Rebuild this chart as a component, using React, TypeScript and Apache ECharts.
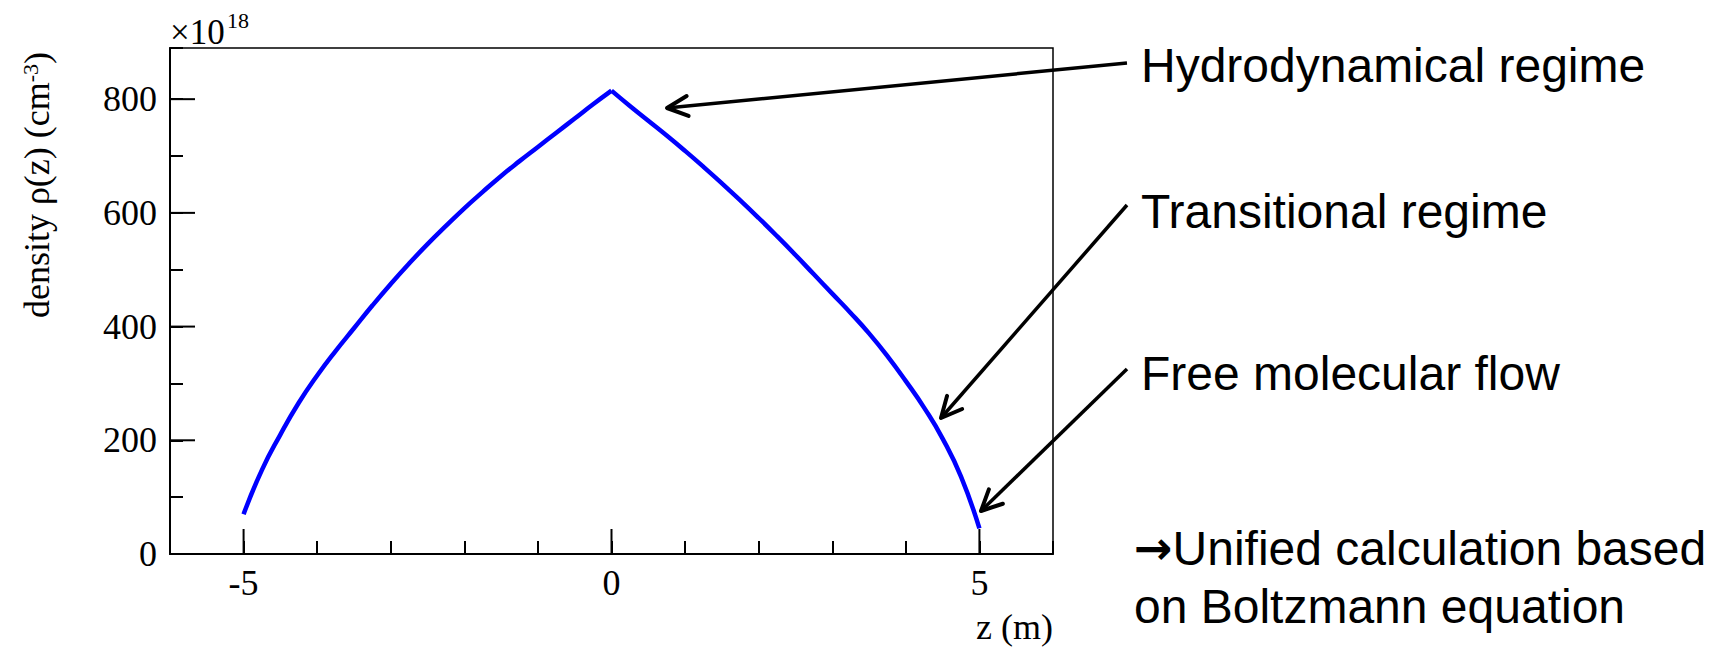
import React, { useEffect, useRef } from "react";
import * as echarts from "echarts";

// Sampled positions along the tube axis, z in metres
const zPositions = [
  -5, -4.75, -4.5, -4.25, -4, -3.75, -3.5, -3.25, -3, -2.75, -2.5, -2.25, -2, -1.75, -1.5,
  -1.25, -1, -0.75, -0.5, -0.25, 0, 0.25, 0.5, 0.75, 1, 1.25, 1.5, 1.75, 2, 2.25, 2.5, 2.75,
  3, 3.25, 3.5, 3.75, 4, 4.25, 4.5, 4.75, 5,
];

// Gas density rho(z) in units of 1e18 cm^-3
const densityValues = [
  70, 148, 210, 266, 314, 357, 397, 437, 475, 511, 545, 577, 608, 637, 665,
  691, 716, 741, 766, 791, 815, 788, 762, 736, 709, 681, 652, 622, 591, 559, 526, 492,
  458, 424, 388, 348, 304, 257, 203, 136, 45,
];

const xRange = [-6, 6];
const yRange = [0, 890];
const xMajorTicks = [-5, 0, 5];
const yMajorTicks = [0, 200, 400, 600, 800];

const regimeLabels = ["Hydrodynamical regime", "Transitional regime", "Free molecular flow"];
const noteLines = ["{arr|\u2192}Unified calculation based", "on Boltzmann equation"];

const SERIF = "'Liberation Serif', 'Times New Roman', serif";
const SANS = "'Liberation Sans', Arial, sans-serif";

// Pixel layout of the annotation block on the right
const regimeTextY = [65, 211, 373];
const regimeArrows = [
  [1127, 63, 667, 108],
  [1127, 205, 941, 418],
  [1127, 369, 981, 511],
];
const noteTextY = [548, 606];

function arrowElements(x1: number, y1: number, x2: number, y2: number) {
  const back = Math.atan2(y1 - y2, x1 - x2);
  const len = 23;
  const spread = 0.45;
  const a1 = [x2 + len * Math.cos(back + spread), y2 + len * Math.sin(back + spread)];
  const a2 = [x2 + len * Math.cos(back - spread), y2 + len * Math.sin(back - spread)];
  return [
    {
      type: "line",
      shape: { x1, y1, x2, y2 },
      style: { stroke: "#000", lineWidth: 3.5 },
      z: 100,
    },
    {
      type: "polyline",
      shape: { points: [a1, [x2, y2], a2] },
      style: { stroke: "#000", fill: null, lineWidth: 4, lineCap: "round", lineJoin: "round" },
      z: 100,
    },
  ];
}

export default function App() {
  const ref = useRef<HTMLDivElement>(null);

  useEffect(() => {
    document.body.style.margin = "0";
    if (!ref.current) return;
    const chart = echarts.init(ref.current, null, { renderer: "svg" });

    const points = zPositions.map((z, i) => [z, densityValues[i]]);
    // the profile has a cusp at z = 0, so each side is smoothed on its own
    const leftBranch = points.filter((p) => p[0] <= 0);
    const rightBranch = points.filter((p) => p[0] >= 0);

    const graphic: any[] = [
      {
        type: "text",
        x: 170,
        y: 32,
        style: { text: "\u00d710", font: `35px ${SERIF}`, fill: "#000", align: "left", verticalAlign: "middle" },
      },
      {
        type: "text",
        x: 227,
        y: 20,
        style: { text: "18", font: `22px ${SERIF}`, fill: "#000", align: "left", verticalAlign: "middle" },
      },
      {
        type: "text",
        x: 37,
        y: 185,
        rotation: Math.PI / 2,
        style: {
          text: "density \u03c1(z) (cm{sup|-3})",
          font: `36px ${SERIF}`,
          fill: "#000",
          align: "center",
          verticalAlign: "middle",
          rich: {
            sup: { fontSize: 22, fontFamily: "Liberation Serif", verticalAlign: "top", fill: "#000" },
          },
        },
      },
      {
        type: "text",
        x: 1053,
        y: 627,
        style: { text: "z (m)", font: `36px ${SERIF}`, fill: "#000", align: "right", verticalAlign: "middle" },
      },
    ];

    regimeLabels.forEach((label, i) => {
      graphic.push({
        type: "text",
        x: 1141,
        y: regimeTextY[i],
        style: { text: label, font: `48px ${SANS}`, fill: "#000", align: "left", verticalAlign: "middle" },
      });
      const [x1, y1, x2, y2] = regimeArrows[i];
      graphic.push(...arrowElements(x1, y1, x2, y2));
    });

    noteLines.forEach((line, i) => {
      graphic.push({
        type: "text",
        x: 1134,
        y: noteTextY[i],
        style: {
          text: line,
          font: `48px ${SANS}`,
          fill: "#000",
          align: "left",
          verticalAlign: "middle",
          rich: {
            arr: { fontFamily: "DejaVu Sans", fontSize: 46, fontWeight: "bold", fill: "#000" },
          },
        },
      });
    });

    const majorTick = (horizontal: boolean) => (params: any, api: any) => {
      const p = api.coord([api.value(0), api.value(1)]);
      return {
        type: "line",
        shape: horizontal
          ? { x1: p[0], y1: p[1], x2: p[0] + 25, y2: p[1] }
          : { x1: p[0], y1: p[1], x2: p[0], y2: p[1] - 25 },
        style: { stroke: "#000", lineWidth: 2 },
      };
    };

    const branchStyle = {
      type: "line",
      showSymbol: false,
      smooth: 0.5,
      lineStyle: { color: "#0000ff", width: 4.5 },
      z: 5,
    };

    chart.setOption({
      animation: false,
      backgroundColor: "#fff",
      grid: {
        left: 170,
        right: 676,
        top: 48,
        bottom: 94,
        show: true,
        borderColor: "#000",
        borderWidth: 1.5,
        containLabel: false,
      },
      xAxis: {
        type: "value",
        min: xRange[0],
        max: xRange[1],
        interval: 1,
        axisLine: { show: true, onZero: false, lineStyle: { color: "#000", width: 2 } },
        axisTick: { show: true, inside: true, length: 13, lineStyle: { color: "#000", width: 2 } },
        splitLine: { show: false },
        axisLabel: {
          margin: 11,
          color: "#000",
          fontFamily: "Liberation Serif",
          fontSize: 36,
          formatter: (v: number) => (xMajorTicks.includes(v) ? String(v) : ""),
        },
      },
      yAxis: {
        type: "value",
        min: yRange[0],
        max: yRange[1],
        interval: 100,
        axisLine: { show: true, onZero: false, lineStyle: { color: "#000", width: 2 } },
        axisTick: { show: true, inside: true, length: 13, lineStyle: { color: "#000", width: 2 } },
        splitLine: { show: false },
        axisLabel: {
          margin: 13,
          color: "#000",
          fontFamily: "Liberation Serif",
          fontSize: 36,
          formatter: (v: number) => (yMajorTicks.includes(v) ? String(v) : ""),
        },
      },
      series: [
        { ...branchStyle, name: "rho-left", data: leftBranch },
        { ...branchStyle, name: "rho-right", data: rightBranch },
        {
          type: "custom",
          data: xMajorTicks.map((x) => [x, yRange[0]]),
          renderItem: majorTick(false),
          silent: true,
          z: 4,
        },
        {
          type: "custom",
          data: yMajorTicks.map((y) => [xRange[0], y]),
          renderItem: majorTick(true),
          silent: true,
          z: 4,
        },
      ],
      graphic,
    });

    return () => chart.dispose();
  }, []);

  return <div ref={ref} style={{ width: 1729, height: 648 }} />;
}
